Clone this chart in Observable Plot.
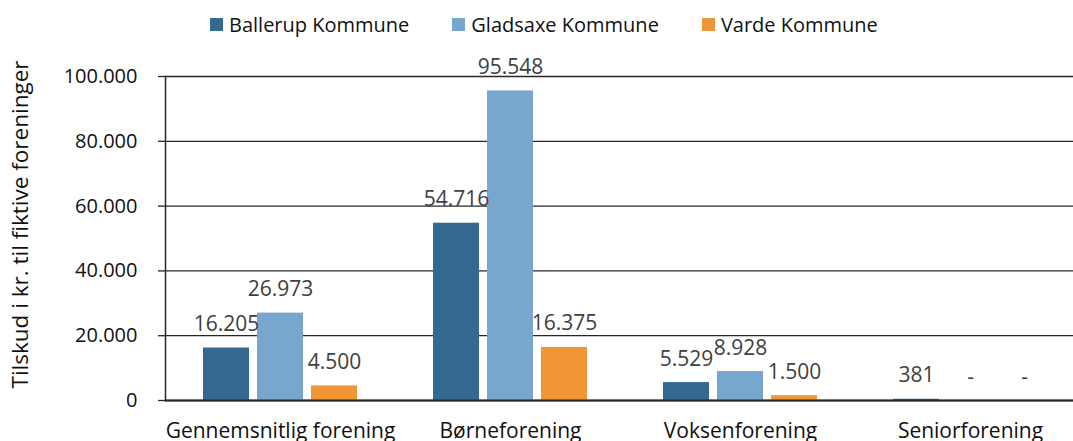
<!DOCTYPE html>
<html>
<head>
<meta charset="utf-8">
<script src="https://cdn.jsdelivr.net/npm/d3@7"></script>
<script src="https://cdn.jsdelivr.net/npm/@observablehq/plot@0.6"></script>
<style>
  html, body { margin: 0; padding: 0; background: #fff; overflow: hidden; }
  #legend { height: 45px; box-sizing: border-box; padding-top: 4px; padding-left: 210px;
    display: flex; align-items: center; font-family: "Open Sans", sans-serif; font-size: 20px; color: #111; }
  #legend .item { display: flex; align-items: center; margin-right: 43px; white-space: nowrap; }
  #legend .sw { width: 13px; height: 13px; margin-right: 6px; }
  svg { display: block; }
</style>
</head>
<body>
<div id="legend"></div>
<div id="chart"></div>
<script>
const categories = ["Gennemsnitlig forening", "Børneforening", "Voksenforening", "Seniorforening"];
const series = ["Ballerup Kommune", "Gladsaxe Kommune", "Varde Kommune"];
const ballerup = [16205, 54716, 5529, 381];
const gladsaxe = [26973, 95548, 8928, 0];
const varde = [4500, 16375, 1500, 0];
const yTicks = [0, 20000, 40000, 60000, 80000, 100000];
const colors = ["#346A92", "#79A6CF", "#F09636"];
const yLabel = "Tilskud i kr. til fiktive foreninger";

const seriesValues = [ballerup, gladsaxe, varde];
const data = categories.flatMap((cat, i) =>
  series.map((s, j) => ({cat, series: s, value: seriesValues[j][i]})));

const locale = d3.formatLocale({decimal: ",", thousands: ".", grouping: [3], currency: ["", ""]});
const fmt = locale.format(",d");
const valFmt = v => v === 0 ? "-" : fmt(v);

// legend
const legend = document.getElementById("legend");
series.forEach((s, i) => {
  const item = document.createElement("div");
  item.className = "item";
  const sw = document.createElement("span");
  sw.className = "sw";
  sw.style.background = colors[i];
  const t = document.createElement("span");
  t.textContent = s;
  item.append(sw, t);
  legend.append(item);
});

const ink = "#262626";
const chart = Plot.plot({
  width: 1073,
  height: 396,
  marginLeft: 165,
  marginRight: 0,
  marginTop: 31,
  marginBottom: 41,
  style: {fontFamily: "'Open Sans', sans-serif", fontSize: "20px", color: "#111", background: "#fff", overflow: "hidden"},
  fx: {domain: categories, range: [165, 1085], paddingInner: 0, paddingOuter: 0},
  x: {domain: series, paddingInner: 0.147, paddingOuter: 0.677, axis: null},
  y: {domain: [0, 100000]},
  color: {domain: series, range: colors},
  marks: [
    Plot.gridY(yTicks, {stroke: ink, strokeOpacity: 1, strokeWidth: 1.3}),
    Plot.barY(data, {fx: "cat", x: "series", y: "value", fill: "series"}),
    Plot.ruleY([0], {stroke: ink, strokeWidth: 2}),
    Plot.frame({anchor: "left", facetAnchor: "left", stroke: ink, strokeWidth: 1.5}),
    Plot.axisY(yTicks, {
      tickSize: 7, tickPadding: 21, tickFormat: fmt, fontSize: 20, color: "#111",
      stroke: ink, strokeWidth: 1.3, label: null
    }),
    Plot.text([yLabel], {
      frameAnchor: "left", facetAnchor: "left", rotate: -90, lineAnchor: "top", textAnchor: "middle",
      dx: -153, dy: -14, fontSize: 22.5, fill: "#111"
    }),
    Plot.axisFx({anchor: "bottom", tickSize: 0, tickPadding: 23, fontSize: 21, color: "#111", label: null}),
    Plot.text(data, {
      fx: "cat", x: "series", y: "value", text: d => valFmt(d.value),
      lineAnchor: "bottom", dy: -17, fill: "#404040", fontSize: 21
    })
  ]
});
document.getElementById("chart").append(chart);
</script>
</body>
</html>
